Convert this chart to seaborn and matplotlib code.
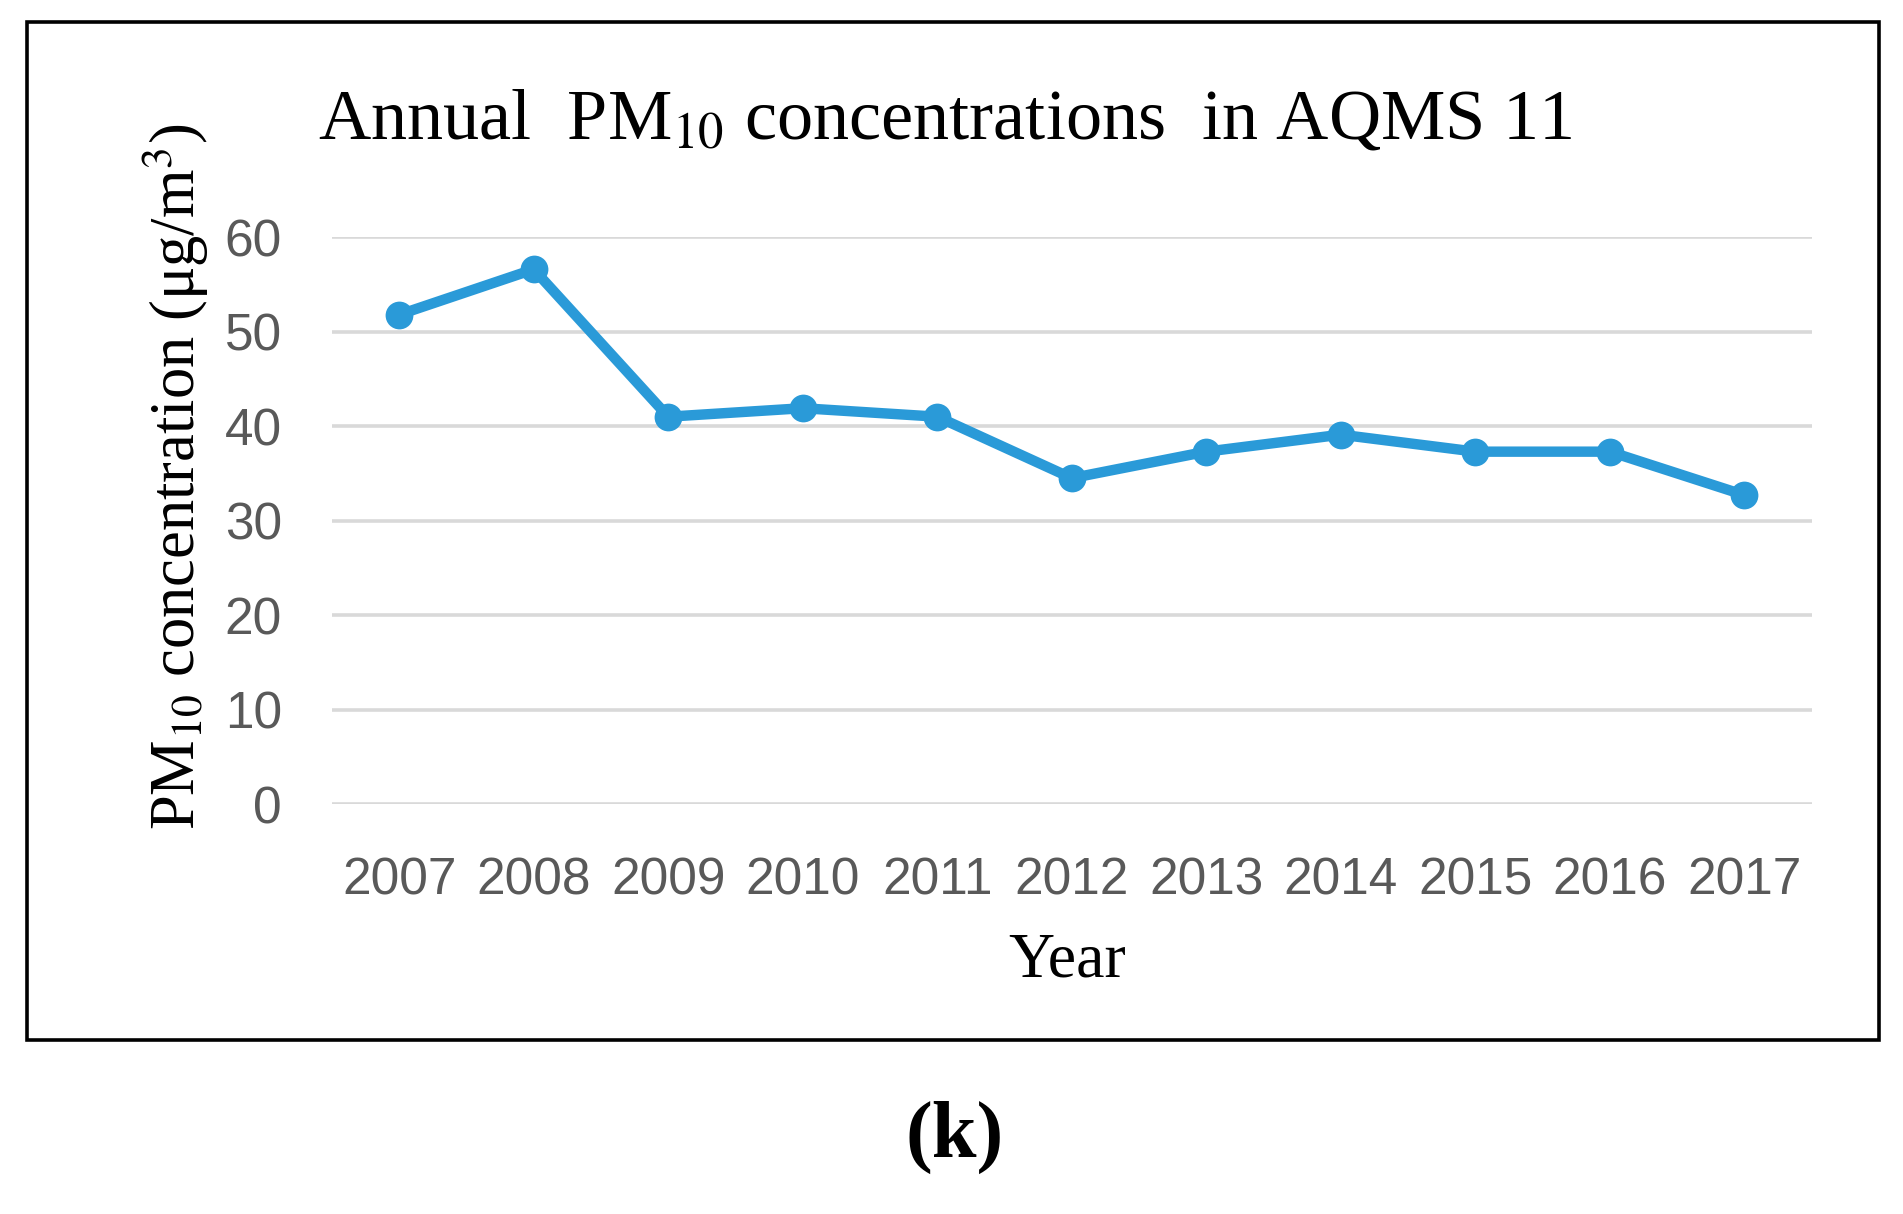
import matplotlib
matplotlib.use("Agg")
import matplotlib.pyplot as plt
import matplotlib.patches as patches
import seaborn as sns
import pandas as pd

years = [2007, 2008, 2009, 2010, 2011, 2012, 2013, 2014, 2015, 2016, 2017]
pm10 = [51.8, 56.6, 41.0, 41.9, 41.0, 34.5, 37.3, 39.1, 37.3, 37.3, 32.7]
y_ticks = [0, 10, 20, 30, 40, 50, 60]

df = pd.DataFrame({"year": years, "pm10": pm10})

sns.set_theme(style="white")
plt.rcParams["font.family"] = ["Liberation Serif", "DejaVu Serif"]
plt.rcParams["mathtext.fontset"] = "stix"

LINE_BLUE = "#2A9AD8"
GRID_GREY = "#D9D9D9"
TICK_GREY = "#595959"
tick_font = ["Liberation Sans", "DejaVu Sans"]

fig = plt.figure(figsize=(19.03, 12.14), dpi=100)
ax = fig.add_axes([0.1744, 0.3377, 0.7776, 0.4669])

sns.lineplot(
    data=df,
    x="year",
    y="pm10",
    ax=ax,
    color=LINE_BLUE,
    linewidth=7.5,
    marker="o",
    markersize=20,
    markeredgewidth=0,
    clip_on=False,
    zorder=3,
)

ax.set_xlim(years[0] - 0.5, years[-1] + 0.5)
ax.set_ylim(0, 60)
ax.set_xticks(years)
ax.set_xticklabels([str(y) for y in years])
ax.set_yticks(y_ticks)
ax.yaxis.grid(True, color=GRID_GREY, linewidth=2.6)
ax.xaxis.grid(False)
ax.set_axisbelow(True)
for s in ax.spines.values():
    s.set_visible(False)
ax.tick_params(axis="both", length=0, colors=TICK_GREY, labelsize=37)
ax.tick_params(axis="x", pad=38)
ax.tick_params(axis="y", pad=36)
for lab in ax.get_xticklabels() + ax.get_yticklabels():
    lab.set_family(tick_font)
ax.set_xlabel("")
ax.set_ylabel("")

fig.text(0.561, 0.208, "Year", ha="center", va="center", fontsize=46, color="black")
fig.text(0.0926, 0.607, r"PM$_{10}$ concentration (μg/m$^{3}$)", rotation=90,
         ha="center", va="center", fontsize=45, color="black")
fig.text(0.497, 0.9, r"Annual  PM$_{10}$ concentrations  in AQMS 11",
         ha="center", va="center", fontsize=52, color="black")
fig.text(0.5016, 0.063, "(k)", ha="center", va="center", fontsize=58,
         fontweight="bold", color="black")

fig.patches.append(patches.Rectangle((0.0141, 0.1433), 0.9731, 0.8387,
                                     transform=fig.transFigure, fill=False,
                                     edgecolor="black", linewidth=2.6))

plt.savefig("out.png", dpi=100)
plt.close()
